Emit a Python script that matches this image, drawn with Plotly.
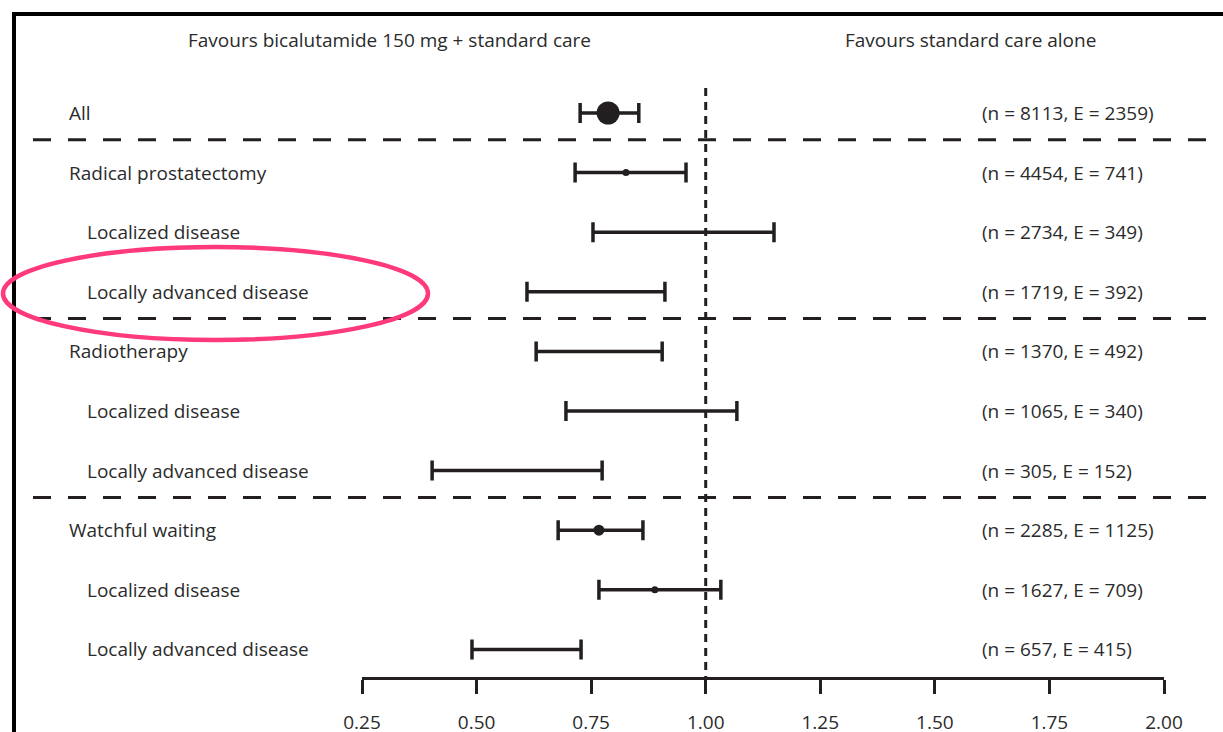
import plotly.graph_objects as go

# ---- data ----
labels = ["All", "Radical prostatectomy", "Localized disease", "Locally advanced disease",
          "Radiotherapy", "Localized disease", "Locally advanced disease",
          "Watchful waiting", "Localized disease", "Locally advanced disease"]
indent = [0, 0, 1, 1, 0, 1, 1, 0, 1, 1]
hr = [0.787, 0.826, 0.929, 0.745, 0.754, 0.861, 0.560, 0.767, 0.889, 0.597]
ci_low = [0.726, 0.715, 0.754, 0.610, 0.630, 0.695, 0.403, 0.678, 0.767, 0.490]
ci_high = [0.854, 0.957, 1.149, 0.911, 0.905, 1.068, 0.774, 0.863, 1.033, 0.728]
n_pat = [8113, 4454, 2734, 1719, 1370, 1065, 305, 2285, 1627, 657]
events = [2359, 741, 349, 392, 492, 340, 152, 1125, 709, 415]
tick_vals = [0.25, 0.50, 0.75, 1.00, 1.25, 1.50, 1.75, 2.00]
tick_text = ["0.25", "0.50", "0.75", "1.00", "1.25", "1.50", "1.75", "2.00"]
header_left = "Favours bicalutamide 150 mg + standard care"
header_right = "Favours standard care alone"

# ---- style ----
marker_sizes = [23, 7, 2, 2, 3, 2, 0, 11, 7, 2]
W, H = 1223, 732
INK = "#231f20"
TXT = "#2b2b2b"
FONT = "Open Sans"
FS = 19
row_top_px, row_step_px = 113, 59.6

def px_x(p):
    return p / W

def px_y(p):
    return 1 - p / H

rows = list(range(len(labels)))

fig = go.Figure()
fig.add_trace(go.Scatter(
    x=hr, y=rows, mode="markers",
    marker=dict(color=INK, size=marker_sizes, opacity=1, line=dict(width=0)),
    error_x=dict(type="data", symmetric=False,
                 array=[h - m for h, m in zip(ci_high, hr)],
                 arrayminus=[m - l for m, l in zip(hr, ci_low)],
                 color=INK, thickness=3.5, width=10),
    hoverinfo="skip", showlegend=False, cliponaxis=False,
))

# y range so that rows sit at given pixel rows
y_top = (0 - row_top_px) / row_step_px
y_bot = (H - row_top_px) / row_step_px

fig.update_layout(
    width=W, height=H, margin=dict(l=0, r=0, t=0, b=0, pad=0, autoexpand=False),
    paper_bgcolor="white", plot_bgcolor="rgba(0,0,0,0)",
    font=dict(family=FONT, color=TXT, size=FS),
    xaxis=dict(domain=[px_x(362), px_x(1164)], range=[0.25, 2.0],
               anchor="free", position=px_y(678),
               showline=True, linecolor=INK, linewidth=3,
               ticks="outside", ticklen=14, tickwidth=3, tickcolor=INK,
               tickvals=tick_vals, ticktext=tick_text,
               tickfont=dict(size=19, color=TXT, family=FONT),
               ticklabelstandoff=12,
               showgrid=False, zeroline=False, fixedrange=True),
    yaxis=dict(domain=[0, 1], range=[y_bot, y_top], visible=False,
               showgrid=False, zeroline=False, fixedrange=True),
)

shapes = []
# frame
shapes.append(dict(type="line", xref="paper", yref="paper",
                   x0=px_x(12), x1=1, y0=px_y(14), y1=px_y(14),
                   line=dict(color="black", width=4)))
shapes.append(dict(type="line", xref="paper", yref="paper",
                   x0=px_x(14), x1=px_x(14), y0=px_y(12), y1=0,
                   line=dict(color="black", width=4)))
# section separators
for i in [0, 3, 6]:
    ysep = i + 0.45
    shapes.append(dict(type="line", xref="paper", yref="y",
                       x0=px_x(33), x1=1, y0=ysep, y1=ysep,
                       line=dict(color=INK, width=3, dash="18px,17px")))
# reference line at 1.00
shapes.append(dict(type="line", xref="x", yref="paper",
                   x0=1.0, x1=1.0, y0=px_y(88), y1=px_y(678),
                   line=dict(color=INK, width=3, dash="8px,6px")))
# highlight ellipse
shapes.append(dict(type="circle", xref="paper", yref="paper",
                   x0=px_x(3), x1=px_x(428), y0=px_y(340), y1=px_y(247),
                   line=dict(color="#fe3a7d", width=4.5)))
fig.update_layout(shapes=shapes)

ann = []
for i, lab in enumerate(labels):
    ann.append(dict(xref="paper", yref="y", x=px_x(67 + 18 * indent[i]), y=i,
                    text=lab, showarrow=False, xanchor="left", yanchor="middle",
                    font=dict(size=FS, color=TXT)))
    ann.append(dict(xref="paper", yref="y", x=px_x(980), y=i,
                    text=f"(n = {n_pat[i]}, E = {events[i]})", showarrow=False,
                    xanchor="left", yanchor="middle", font=dict(size=FS, color=TXT)))
ann.append(dict(xref="paper", yref="paper", x=px_x(390), y=px_y(40), text=header_left,
                showarrow=False, xanchor="center", yanchor="middle", font=dict(size=FS, color=TXT)))
ann.append(dict(xref="paper", yref="paper", x=px_x(970), y=px_y(40), text=header_right,
                showarrow=False, xanchor="center", yanchor="middle", font=dict(size=FS, color=TXT)))
fig.update_layout(annotations=ann)

fig.write_html("out.html")
